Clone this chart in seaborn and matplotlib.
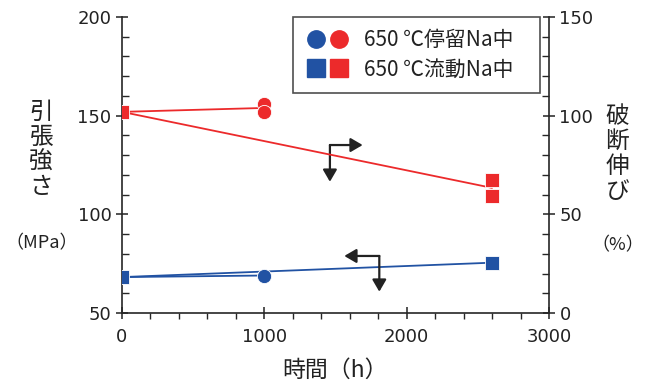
import matplotlib
matplotlib.use("Agg")
import matplotlib.pyplot as plt
from matplotlib.ticker import MultipleLocator
from matplotlib.lines import Line2D
from matplotlib.legend_handler import HandlerTuple
import seaborn as sns
import pandas as pd

# -----------------------------
# Data
# -----------------------------
# tensile strength (MPa) - left axis, blue
ts_static = [68.2, 69.0]          # 0 h (shared start), 1000 h circle
ts_flow = [68.2, 75.5]            # 0 h, 2600 h square

# elongation (%) - right axis, red
el_start = 101.9
el_static = [105.9, 101.9]        # 1000 h circles
el_flow = [67.4, 59.3]            # 2600 h squares
el_static_mean = 103.9
el_flow_mean = 63.4

blue = "#2152a3"
red = "#ec2a2b"
ink = "#222222"

# -----------------------------
# Setup
# -----------------------------
sns.set_theme(style="ticks")
plt.rcParams["font.family"] = ["Noto Sans CJK JP", "DejaVu Sans"]
plt.rcParams["axes.linewidth"] = 1.2

fig = plt.figure(figsize=(6.54, 3.85), dpi=100)
ax = fig.add_axes([0.1865, 0.187, 0.6529, 0.769])
ax2 = ax.twinx()

mk_kw = dict(s=105, edgecolor="white", linewidth=0.6, zorder=5)

# blue: tensile strength
seg = pd.DataFrame({"x": [0, 1000], "y": [ts_static[0], ts_static[1]]})
sns.lineplot(data=seg, x="x", y="y", ax=ax, color=blue, lw=1.3)
seg = pd.DataFrame({"x": [0, 2600], "y": [ts_flow[0], ts_flow[1]]})
sns.lineplot(data=seg, x="x", y="y", ax=ax, color=blue, lw=1.3)
sns.scatterplot(x=[1000], y=[ts_static[1]], ax=ax, color=blue, marker="o", **mk_kw)
sns.scatterplot(x=[0, 2600], y=ts_flow, ax=ax, color=blue, marker="s", **mk_kw)

# red: elongation
seg = pd.DataFrame({"x": [0, 1000], "y": [el_start, el_static_mean]})
sns.lineplot(data=seg, x="x", y="y", ax=ax2, color=red, lw=1.3)
seg = pd.DataFrame({"x": [0, 2600], "y": [el_start, el_flow_mean]})
sns.lineplot(data=seg, x="x", y="y", ax=ax2, color=red, lw=1.3)
sns.scatterplot(x=[1000, 1000], y=el_static, ax=ax2, color=red, marker="o", **mk_kw)
sns.scatterplot(x=[0, 2600, 2600], y=[el_start] + el_flow, ax=ax2, color=red, marker="s", **mk_kw)

# axes limits / ticks
ax.set_xlim(0, 3000)
ax.set_ylim(50, 200)
ax2.set_ylim(0, 150)
ax.xaxis.set_major_locator(MultipleLocator(1000))
ax.xaxis.set_minor_locator(MultipleLocator(200))
ax.yaxis.set_major_locator(MultipleLocator(50))
ax.yaxis.set_minor_locator(MultipleLocator(10))
ax2.yaxis.set_major_locator(MultipleLocator(50))
ax2.yaxis.set_minor_locator(MultipleLocator(10))

for a in (ax, ax2):
    a.spines["top"].set_visible(False)
    a.set_xlabel("")
    a.set_ylabel("")
ax.spines["right"].set_visible(False)
ax2.spines["left"].set_visible(False)
ax2.spines["bottom"].set_visible(False)

ax.tick_params(axis="y", which="major", direction="inout", length=9, width=1.1, labelsize=13, pad=3, colors=ink)
ax.tick_params(axis="y", which="minor", direction="in", length=5, width=1.0)
ax.tick_params(axis="x", which="major", direction="inout", length=9, width=1.1, labelsize=13, pad=6, colors=ink)
ax.tick_params(axis="x", which="minor", direction="out", length=4, width=1.0)
ax2.tick_params(axis="y", which="major", direction="inout", length=9, width=1.1, labelsize=13, pad=3, colors=ink)
ax2.tick_params(axis="y", which="minor", direction="in", length=5, width=1.0)
for lab in ax.get_xticklabels() + ax.get_yticklabels() + ax2.get_yticklabels():
    lab.set_family("DejaVu Sans")

# axis titles (vertical stacked text)
fig.text(0.063, 0.61, "引\n張\n強\nさ", ha="center", va="center", fontsize=17, linespacing=1.12, color=ink)
fig.text(0.063, 0.368, "（MPa）", ha="center", va="center", fontsize=13, color=ink)
fig.text(0.944, 0.6, "破\n断\n伸\nび", ha="center", va="center", fontsize=17, linespacing=1.12, color=ink)
fig.text(0.944, 0.363, "（%）", ha="center", va="center", fontsize=13, color=ink)
fig.text(0.512, 0.038, "時間（h）", ha="center", va="center", fontsize=16.5, color=ink)

# direction arrows
arrow = dict(arrowstyle="-|>,head_length=0.6,head_width=0.35", color=ink, lw=1.6, shrinkA=0, shrinkB=0)
ax.annotate("", xy=(1691, 135.1), xytext=(1461, 135.1), arrowprops=arrow)
ax.annotate("", xy=(1461, 116.5), xytext=(1461, 135.1), arrowprops=arrow)
ax.annotate("", xy=(1562, 78.9), xytext=(1808, 78.9), arrowprops=arrow)
ax.annotate("", xy=(1808, 60.8), xytext=(1808, 78.9), arrowprops=arrow)

# legend
def mk(c, m):
    return Line2D([], [], ls="none", marker=m, color=c, markersize=12.5)

handles = [(mk(blue, "o"), mk(red, "o")), (mk(blue, "s"), mk(red, "s"))]
labels = ["650 ℃停留Na中   ", "650 ℃流動Na中   "]
leg = ax2.legend(handles, labels, handler_map={tuple: HandlerTuple(ndivide=None, pad=0.1)},
                 loc="upper right", bbox_to_anchor=(0.979, 1.0), fontsize=15, frameon=True,
                 fancybox=False, handlelength=2.1, borderpad=0.6, labelspacing=0.35, handletextpad=0.7,
                 borderaxespad=0.0)
leg.get_frame().set_edgecolor(ink)
leg.get_frame().set_linewidth(1.2)
for t in leg.get_texts():
    t.set_color(ink)

fig.savefig("out.png", dpi=100)
